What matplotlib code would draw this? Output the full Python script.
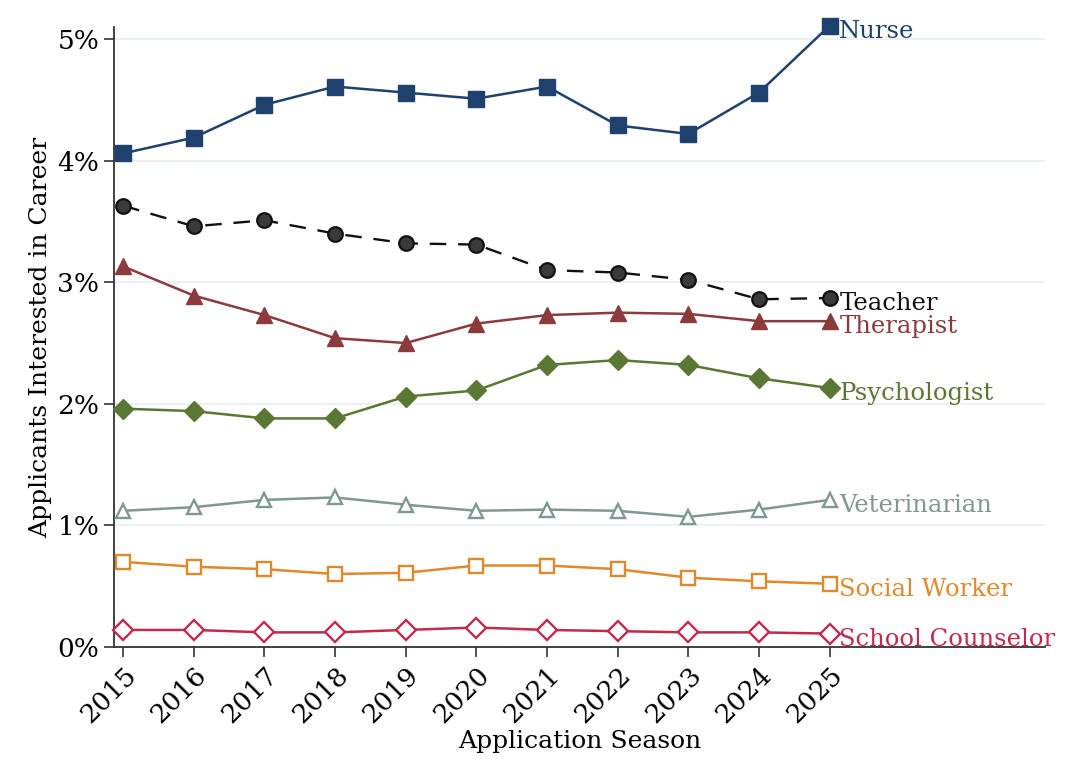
import numpy as np
import matplotlib
matplotlib.use("Agg")
import matplotlib.pyplot as plt
from matplotlib.ticker import FuncFormatter

years = list(range(2015, 2026))

nurse = [4.06, 4.19, 4.46, 4.61, 4.56, 4.51, 4.61, 4.29, 4.22, 4.56, 5.11]
teacher = [3.63, 3.46, 3.51, 3.40, 3.32, 3.31, 3.10, 3.08, 3.02, 2.86, 2.87]
therapist = [3.13, 2.89, 2.73, 2.54, 2.50, 2.66, 2.73, 2.75, 2.74, 2.68, 2.68]
psychologist = [1.96, 1.94, 1.88, 1.88, 2.06, 2.11, 2.32, 2.36, 2.32, 2.21, 2.13]
veterinarian = [1.12, 1.15, 1.21, 1.23, 1.17, 1.12, 1.13, 1.12, 1.07, 1.13, 1.21]
social_worker = [0.70, 0.66, 0.64, 0.60, 0.61, 0.67, 0.67, 0.64, 0.57, 0.54, 0.52]
school_counselor = [0.14, 0.14, 0.12, 0.12, 0.14, 0.16, 0.14, 0.13, 0.12, 0.12, 0.11]

names = ["Nurse", "Teacher", "Therapist", "Psychologist", "Veterinarian",
         "Social Worker", "School Counselor"]
series = [nurse, teacher, therapist, psychologist, veterinarian,
          social_worker, school_counselor]

# colour, marker, size, filled, linestyle
styles = [
    ("#1f416e", "s", 11.5, True, "-"),
    ("#111111", "o", 10.5, True, (0, (7, 5))),
    ("#8c3a3c", "^", 11.5, True, "-"),
    ("#5a7834", "D", 10.5, True, "-"),
    ("#7e9990", "^", 10.5, False, "-"),
    ("#e0892c", "s", 10.0, False, "-"),
    ("#c22a4c", "D", 10.0, False, "-"),
]

plt.rcParams['font.family'] = ['DejaVu Serif']

fig = plt.figure(figsize=(10.8, 7.66), dpi=100)
ax = fig.add_axes([0.1056, 0.1554, 0.862, 0.8094])

for name, vals, (col, mk, ms, filled, ls) in zip(names, series, styles):
    if name == "Teacher":
        ax.plot(years, vals, color=col, linestyle=ls, linewidth=1.7,
                marker=mk, markersize=ms, markerfacecolor="#3a3a3a",
                markeredgecolor="#111111", markeredgewidth=1.6, zorder=3,
                clip_on=False)
    elif filled:
        ax.plot(years, vals, color=col, linestyle=ls, linewidth=1.8,
                marker=mk, markersize=ms, markerfacecolor=col,
                markeredgecolor=col, zorder=3, clip_on=False)
    else:
        ax.plot(years, vals, color=col, linestyle=ls, linewidth=1.8,
                marker=mk, markersize=ms, markerfacecolor="white",
                markeredgecolor=col, markeredgewidth=1.7, zorder=3,
                clip_on=False)
    ax.annotate(name, xy=(years[-1], vals[-1]), xytext=(7, -4),
                textcoords="offset points", ha="left", va="center",
                fontsize=17.5, color=col, annotation_clip=False)

ax.set_xlim(2014.87, 2028.05)
ax.set_ylim(0, 5.1)
ax.set_xticks(years)
ax.set_xticklabels([str(y) for y in years], rotation=45, ha="right",
                   rotation_mode="anchor")
ax.set_yticks([0, 1, 2, 3, 4, 5])
ax.yaxis.set_major_formatter(FuncFormatter(lambda v, p: "%d%%" % v))
ax.tick_params(axis="both", labelsize=19, direction="out", length=7,
               width=1.2, color="#333333")
ax.tick_params(axis="x", pad=4)

for y in [1, 2, 3, 4, 5]:
    ax.axhline(y, color="#e9eef1", linewidth=1.2, zorder=1)

for s in ["top", "right"]:
    ax.spines[s].set_visible(False)
for s in ["left", "bottom"]:
    ax.spines[s].set_linewidth(1.3)
    ax.spines[s].set_color("#333333")

ax.set_xlabel("Application Season", fontsize=18, labelpad=2)
ax.set_ylabel("Applicants Interested in Career", fontsize=18, labelpad=4)

fig.savefig("out.png", dpi=100)
